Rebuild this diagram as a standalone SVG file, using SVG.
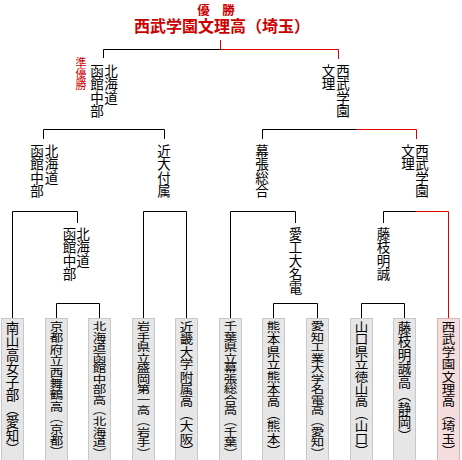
<svg xmlns="http://www.w3.org/2000/svg" width="462" height="460" viewBox="0 0 462 460">
<style>
text{font-family:"Noto Sans CJK JP","Noto Sans CJK SC",sans-serif;fill:#000}
.t{font-family:"Liberation Sans","Noto Sans CJK JP","Noto Sans CJK SC",sans-serif;font-weight:bold}
.v{writing-mode:vertical-rl;font-size:13.5px}
.r{fill:#cc0000}
.k{stroke:#000;stroke-width:1;fill:none}
.rd{stroke:#e00000;stroke-width:1;fill:none}
.box{fill:#e6e6e6;stroke:#c8c8c8;stroke-width:1}
.win{fill:#f6dddd;stroke:#d9b4b4;stroke-width:1}
</style>
<rect width="462" height="460" fill="#fff"/>
<g id="champion">
<text x="216" y="14.5" text-anchor="middle" font-size="12.5" class="t r">優　勝</text>
<text x="222" y="32" text-anchor="middle" font-size="16" class="t r">西武学園文理高（埼玉）</text>
</g>
<g id="connectors">
<path class="k" d="M103.5,49.5H221M103.5,49.5V58M43.5,129.5H164.5M43.5,129.5V139M164.5,129.5V139M262.5,129.5H356M262.5,129.5V139M12.5,211.5H77.5M12.5,211.5V318M77.5,211.5V223M143.5,211.5H186.5M143.5,211.5V318M186.5,211.5V318M230.5,211.5H295.5M230.5,211.5V318M295.5,211.5V223M383.5,211.5H416M383.5,211.5V223M56.5,303.5H99.5V318M56.5,303.5V318M273.5,303.5H317.5V318M273.5,303.5V318M361.5,303.5H404.5V318M361.5,303.5V318"/>
<path class="rd" d="M220.5,40V49.5H338.5V59M356,129.5H416.5V139M416,211.5H448.5V318"/>
</g>
<g id="final-left">
<text class="v r" x="81" y="57" style="font-size:11px">準優勝</text>
<text class="v" x="111" y="64">北海道</text>
<text class="v" x="97" y="64">函館中部</text>
</g>
<g id="final-right">
<text class="v" x="343" y="64">西武学園</text>
<text class="v" x="328.5" y="64">文理</text>
</g>
<g id="semi-1">
<text class="v" x="51.5" y="144">北海道</text>
<text class="v" x="37" y="144">函館中部</text>
</g>
<g id="semi-2"><text class="v" x="164" y="144">近大付属</text></g>
<g id="semi-3"><text class="v" x="262" y="144">幕張総合</text></g>
<g id="semi-4">
<text class="v" x="422" y="144">西武学園</text>
<text class="v" x="408" y="144">文理</text>
</g>
<g id="r2-1">
<text class="v" x="83" y="227">北海道</text>
<text class="v" x="69.5" y="227">函館中部</text>
</g>
<g id="r2-2"><text class="v" x="295.5" y="227">愛工大名電</text></g>
<g id="r2-3"><text class="v" x="383.5" y="227">藤枝明誠</text></g>
<g id="team-1"><rect class="box" x="1.5" y="318.5" width="22" height="150"/><text class="v" x="12.5" y="321">南山高女子部（愛知）</text></g>
<g id="team-2"><rect class="box" x="45.5" y="318.5" width="22" height="150"/><text class="v" transform="translate(56.5,321) scale(1,0.845)">京都府立西舞鶴高（京都）</text></g>
<g id="team-3"><rect class="box" x="88.5" y="318.5" width="22" height="150"/><text class="v" transform="translate(99.5,321) scale(1,0.78)">北海道函館中部高（北海道）</text></g>
<g id="team-4"><rect class="box" x="132.5" y="318.5" width="22" height="150"/><text class="v" transform="translate(143.5,321) scale(1,0.78)">岩手県立盛岡第一高（岩手）</text></g>
<g id="team-5"><rect class="box" x="175.5" y="318.5" width="22" height="150"/><text class="v" transform="translate(186.5,321) scale(1,0.92)">近畿大学附属高（大阪）</text></g>
<g id="team-6"><rect class="box" x="219.5" y="318.5" width="22" height="150"/><text class="v" transform="translate(230.5,321) scale(1,0.78)">千葉県立幕張総合高（千葉）</text></g>
<g id="team-7"><rect class="box" x="262.5" y="318.5" width="22" height="150"/><text class="v" transform="translate(273.5,321) scale(1,0.92)">熊本県立熊本高（熊本）</text></g>
<g id="team-8"><rect class="box" x="306.5" y="318.5" width="22" height="150"/><text class="v" transform="translate(317.5,321) scale(1,0.78)">愛知工業大学名電高（愛知）</text></g>
<g id="team-9"><rect class="box" x="350.5" y="318.5" width="22" height="150"/><text class="v" transform="translate(361.5,321) scale(1,0.92)">山口県立徳山高（山口）</text></g>
<g id="team-10"><rect class="box" x="393.5" y="318.5" width="22" height="150"/><text class="v" x="404.5" y="321">藤枝明誠高（静岡）</text></g>
<g id="team-11"><rect class="win" x="437.5" y="318.5" width="22" height="150"/><text class="v" transform="translate(448.5,321) scale(1,0.92)">西武学園文理高（埼玉）</text></g>
</svg>
